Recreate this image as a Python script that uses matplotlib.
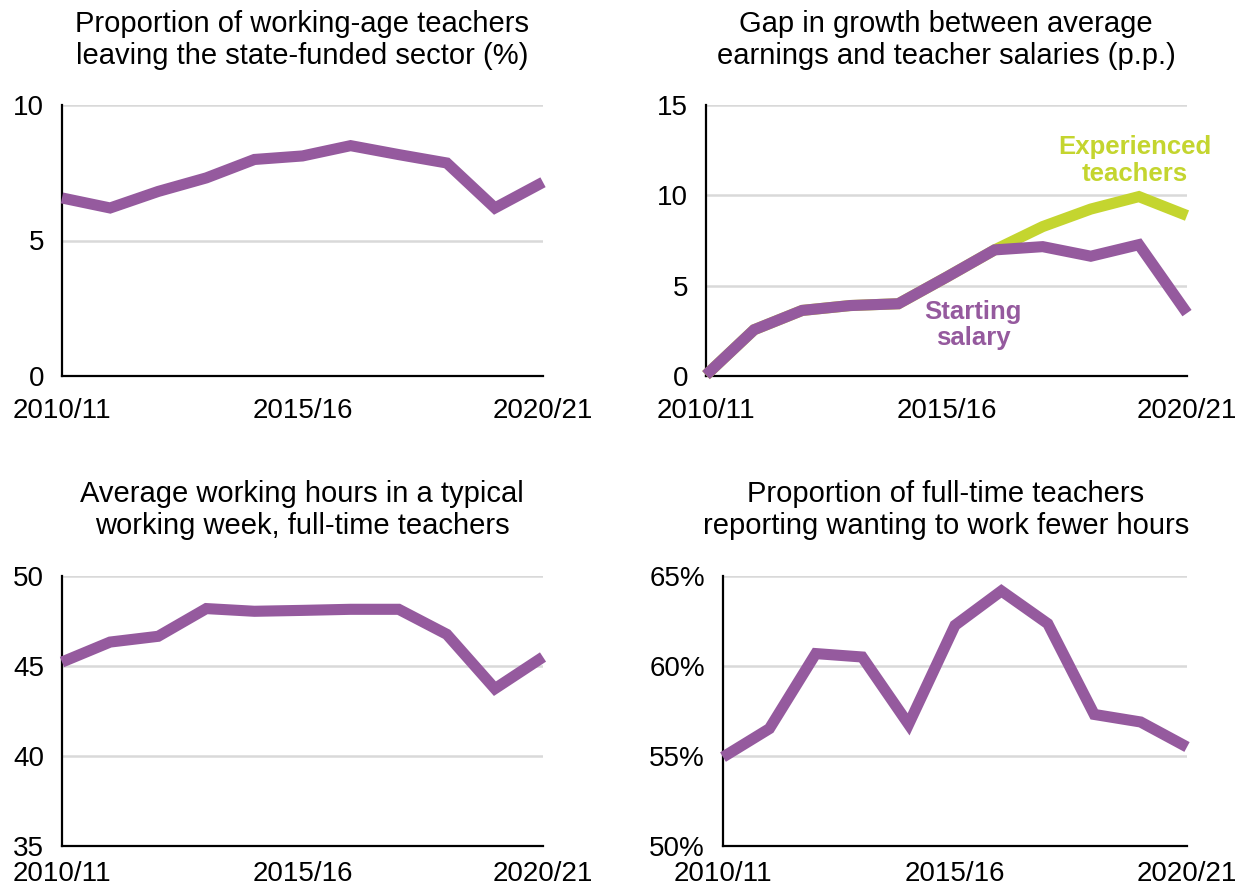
import matplotlib
matplotlib.use("Agg")
import matplotlib.pyplot as plt
from matplotlib.ticker import FuncFormatter

plt.rcParams["font.family"] = ["Liberation Sans", "DejaVu Sans"]

PURPLE = "#955A9E"
GREEN = "#C4D52F"
GRID = "#D9D9D9"

years = list(range(11))  # 2010/11 .. 2020/21
year_ticks = [0, 5, 10]
year_labels = ["2010/11", "2015/16", "2020/21"]

leaving_rate = [6.57, 6.2, 6.81, 7.31, 7.99, 8.12, 8.5, 8.17, 7.86, 6.2, 7.15]
gap_starting = [0.05, 2.56, 3.63, 3.9, 4.0, 5.47, 6.98, 7.16, 6.63, 7.27, 3.48]
gap_experienced = [0.05, 2.56, 3.63, 3.9, 4.0, 5.47, 6.98, 8.27, 9.24, 9.93, 8.88]
working_hours = [45.22, 46.33, 46.65, 48.19, 48.04, 48.09, 48.15, 48.15, 46.76, 43.74, 45.5]
fewer_hours = [54.94, 56.52, 60.69, 60.5, 56.76, 62.26, 64.17, 62.35, 57.31, 56.89, 55.5]

W, H = 1245, 890
fig = plt.figure(figsize=(W / 100, H / 100), dpi=100)


def px_axes(left, top, right, bottom):
    return fig.add_axes([left / W, 1 - bottom / H, (right - left) / W, (bottom - top) / H])


def style(ax, ylim, yticks, xpad=16):
    ax.set_xlim(0, 10)
    ax.set_ylim(*ylim)
    ax.set_yticks(yticks)
    ax.set_xticks(year_ticks, year_labels)
    ax.tick_params(axis="both", length=0, labelsize=20)
    ax.tick_params(axis="y", pad=13)
    ax.tick_params(axis="x", pad=xpad)
    for s in ["top", "right"]:
        ax.spines[s].set_visible(False)
    for s in ["left", "bottom"]:
        ax.spines[s].set_linewidth(1.6)
        ax.spines[s].set_zorder(3)
    ax.grid(axis="y", color=GRID, linewidth=1.8)
    ax.set_axisbelow(True)


def line(ax, vals, color):
    ax.plot(years, vals, color=color, linewidth=8, solid_capstyle="butt",
            solid_joinstyle="miter", clip_on=False, zorder=4)


def title(x, y, text):
    fig.text(x / W, 1 - y / H, text, ha="center", va="center", fontsize=21,
             linespacing=1.2)


ax1 = px_axes(62, 105, 543, 376)
style(ax1, (0, 10), [0, 5, 10])
line(ax1, leaving_rate, PURPLE)
title(302, 40, "Proportion of working-age teachers\nleaving the state-funded sector (%)")

ax2 = px_axes(706, 105, 1187, 376)
style(ax2, (0, 15), [0, 5, 10, 15])
line(ax2, gap_experienced, GREEN)
line(ax2, gap_starting, PURPLE)
ax2.text(8.91, 11.95, "Experienced\nteachers", color=GREEN, fontsize=18.5,
         fontweight="bold", ha="center", va="center", linespacing=1.15)
ax2.text(5.55, 2.82, "Starting\nsalary", color=PURPLE, fontsize=18.5,
         fontweight="bold", ha="center", va="center", linespacing=1.15)
title(946, 40, "Gap in growth between average\nearnings and teacher salaries (p.p.)")

ax3 = px_axes(62, 576, 543, 846)
style(ax3, (35, 50), [35, 40, 45, 50], xpad=11)
line(ax3, working_hours, PURPLE)
title(302, 510, "Average working hours in a typical\nworking week, full-time teachers")

ax4 = px_axes(723, 576, 1187, 846)
style(ax4, (50, 65), [50, 55, 60, 65], xpad=11)
ax4.yaxis.set_major_formatter(FuncFormatter(lambda v, p: f"{v:.0f}%"))
line(ax4, fewer_hours, PURPLE)
title(946, 510, "Proportion of full-time teachers\nreporting wanting to work fewer hours")

fig.savefig("out.png", dpi=100)
